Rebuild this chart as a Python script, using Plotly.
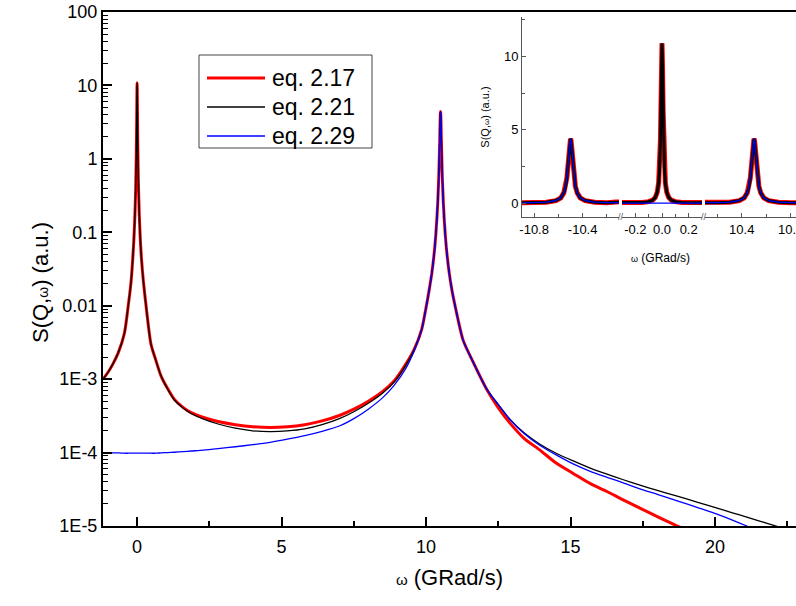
import plotly.graph_objects as go

# ---------------- data ----------------
omega = [
    -10.9, -10.8, -10.7, -10.62, -10.58, -10.555, -10.54, -10.53, -10.52, -10.515, -10.51, -10.505, -10.5,
    -10.495, -10.49, -10.485, -10.48, -10.47, -10.46, -10.445, -10.42, -10.38, -10.3, -10.2, -10.1,
    -1.18, -1.0, -0.84, -0.65, -0.44, -0.3, -0.21, -0.15, -0.1, -0.07, -0.05, -0.035, -0.025, -0.018,
    -0.012, -0.008, -0.004, 0.0,
    0.004, 0.008, 0.012, 0.018, 0.025, 0.035, 0.05, 0.07, 0.1, 0.15, 0.22, 0.3,
    0.48, 0.65, 0.83, 1.05, 1.29, 1.6, 1.87, 2.3, 2.8, 3.4, 4.0, 4.6, 5.2, 5.8, 6.4, 7.0, 7.5, 8.0,
    8.5, 8.9, 9.3, 9.6, 9.85, 10.0,
    10.1, 10.2, 10.3, 10.38, 10.42, 10.445, 10.46, 10.47, 10.48, 10.485, 10.49, 10.495, 10.5,
    10.505, 10.51, 10.515, 10.52, 10.53, 10.54, 10.555, 10.58, 10.62, 10.7, 10.8, 10.9,
    11.0, 11.28, 11.6, 12.11, 12.5, 12.91, 13.4, 13.94, 14.5, 15.09, 15.7, 16.26, 16.8, 17.4, 18.0,
    18.69, 19.4, 20.07, 20.6, 21.1, 21.6, 22.0, 22.5,
]

s_eq217 = [
    0.0158, 0.028, 0.0625, 0.169, 0.36, 0.70, 1.16, 1.72, 2.60, 3.16, 3.75, 4.22, 4.4,
    4.22, 3.75, 3.16, 2.60, 1.72, 1.16, 0.70, 0.36, 0.169, 0.0625, 0.028, 0.0158,
    1.0e-3, 1.25e-3, 1.6e-3, 2.3e-3, 4.2e-3, 0.0105, 0.021, 0.044, 0.099, 0.20, 0.39, 0.76, 1.40, 2.41,
    4.25, 6.43, 9.28, 10.9,
    9.28, 6.43, 4.25, 2.41, 1.40, 0.76, 0.39, 0.20, 0.099, 0.044, 0.021, 0.0108,
    3.0e-3, 1.8e-3, 1.1e-3, 7.5e-4, 5.3e-4, 4.1e-4, 3.5e-4, 3.0e-4, 2.65e-4, 2.4e-4, 2.25e-4, 2.2e-4,
    2.25e-4, 2.4e-4, 2.7e-4, 3.2e-4, 3.9e-4, 5.0e-4, 6.8e-4, 9.5e-4, 1.6e-3, 2.6e-3, 4.8e-3, 9.5e-3,
    0.0158, 0.028, 0.0625, 0.169, 0.36, 0.70, 1.16, 1.72, 2.60, 3.16, 3.75, 4.22, 4.4,
    4.22, 3.75, 3.16, 2.60, 1.72, 1.16, 0.70, 0.36, 0.169, 0.0625, 0.028, 0.0158,
    0.0101, 3.4e-3, 1.8e-3, 7.1e-4, 4.07e-4, 2.5e-4, 1.55e-4, 1.08e-4, 7.2e-5, 5.2e-5, 3.74e-5, 2.95e-5,
    2.29e-5, 1.75e-5, 1.34e-5, 1.0e-5, 7.6e-6, 5.9e-6, 4.9e-6, 4.1e-6, 3.5e-6, 3.1e-6, 2.7e-6,
]

s_eq221 = [
    0.0158, 0.028, 0.0625, 0.169, 0.36, 0.70, 1.16, 1.72, 2.60, 3.16, 3.75, 4.22, 4.4,
    4.22, 3.75, 3.16, 2.60, 1.72, 1.16, 0.70, 0.36, 0.169, 0.0625, 0.028, 0.0158,
    1.0e-3, 1.25e-3, 1.6e-3, 2.3e-3, 4.2e-3, 0.0105, 0.021, 0.044, 0.099, 0.20, 0.39, 0.76, 1.40, 2.41,
    4.25, 6.43, 9.28, 10.9,
    9.28, 6.43, 4.25, 2.41, 1.40, 0.76, 0.39, 0.20, 0.099, 0.044, 0.021, 0.0108,
    3.0e-3, 1.8e-3, 1.1e-3, 7.4e-4, 5.2e-4, 4.0e-4, 3.4e-4, 2.85e-4, 2.45e-4, 2.15e-4, 1.98e-4, 1.93e-4,
    1.97e-4, 2.1e-4, 2.4e-4, 2.9e-4, 3.6e-4, 4.7e-4, 6.5e-4, 9.2e-4, 1.55e-3, 2.6e-3, 4.8e-3, 9.5e-3,
    0.0158, 0.028, 0.0625, 0.169, 0.36, 0.70, 1.16, 1.72, 2.60, 3.16, 3.75, 4.22, 4.4,
    4.22, 3.75, 3.16, 2.60, 1.72, 1.16, 0.70, 0.36, 0.169, 0.0625, 0.028, 0.0158,
    0.0101, 3.4e-3, 1.8e-3, 7.2e-4, 4.5e-4, 2.8e-4, 1.85e-4, 1.3e-4, 9.8e-5, 7.7e-5, 6.1e-5, 5.1e-5,
    4.3e-5, 3.6e-5, 3.05e-5, 2.55e-5, 2.1e-5, 1.75e-5, 1.51e-5, 1.32e-5, 1.15e-5, 1.03e-5, 8.9e-6,
]

s_eq229 = [
    0.0158, 0.028, 0.0625, 0.169, 0.36, 0.70, 1.16, 1.72, 2.60, 3.16, 3.75, 4.22, 4.4,
    4.22, 3.75, 3.16, 2.60, 1.72, 1.16, 0.70, 0.36, 0.169, 0.0625, 0.028, 0.0158,
    1.0e-4, 1.0e-4, 0.99e-4, 0.99e-4, 0.98e-4, 0.98e-4, 0.98e-4, 0.98e-4, 0.98e-4, 0.98e-4, 0.98e-4,
    0.98e-4, 0.98e-4, 0.98e-4, 0.98e-4, 0.98e-4, 0.98e-4, 0.98e-4,
    0.98e-4, 0.98e-4, 0.98e-4, 0.98e-4, 0.98e-4, 0.98e-4, 0.98e-4, 0.98e-4, 0.98e-4, 0.98e-4, 0.98e-4, 0.98e-4,
    0.98e-4, 0.98e-4, 0.99e-4, 1.0e-4, 1.01e-4, 1.03e-4, 1.05e-4, 1.08e-4, 1.13e-4, 1.2e-4, 1.28e-4, 1.38e-4,
    1.52e-4, 1.7e-4, 1.95e-4, 2.3e-4, 2.9e-4, 3.9e-4, 5.6e-4, 8.3e-4, 1.4e-3, 2.5e-3, 4.7e-3, 9.4e-3,
    0.0158, 0.028, 0.0625, 0.169, 0.36, 0.70, 1.16, 1.72, 2.60, 3.16, 3.75, 4.22, 4.4,
    4.22, 3.75, 3.16, 2.60, 1.72, 1.16, 0.70, 0.36, 0.169, 0.0625, 0.028, 0.0158,
    0.0101, 3.4e-3, 1.8e-3, 7.2e-4, 4.5e-4, 2.8e-4, 1.8e-4, 1.25e-4, 9.3e-5, 7.0e-5, 5.5e-5, 4.6e-5,
    3.9e-5, 3.2e-5, 2.7e-5, 2.2e-5, 1.78e-5, 1.45e-5, 1.2e-5, 1.0e-5, 8.3e-6, 7.5e-6, 6.6e-6,
]

series_values = [s_eq217, s_eq221, s_eq229]
series_names = ["eq. 2.17", "eq. 2.21", "eq. 2.29"]
series_colors = ["#ff0000", "#000000", "#0000ff"]
main_widths = [3, 1.3, 1.3]
inset_widths = [5, 3, 1.2]

main_x_range = [-1.18, 22.8]
main_x_ticks = [0, 5, 10, 15, 20]
main_x_minor = [2.5, 7.5, 12.5, 17.5, 22.5]
main_y_ticks = [1e-5, 1e-4, 1e-3, 0.01, 0.1, 1, 10, 100]
main_y_text = ["1E-5", "1E-4", "1E-3", "0.01", "0.1", "1", "10", "100"]
main_y_minor = [m * 10.0 ** e for e in range(-5, 2) for m in range(2, 10)]

inset_y_ticks = [0, 5, 10]
inset_y_minor = [2.5, 7.5, 12.5]
seg_ranges = [[-10.9, -10.1], [-0.3, 0.3], [10.1, 10.843]]
seg_ticks = [[-10.8, -10.4], [-0.2, 0.0, 0.2], [10.4, 10.8]]
seg_text = [["-10.8", "-10.4"], ["-0.2", "0.0", "0.2"], ["10.4", "10.8"]]
seg_minor = [[-10.6, -10.2], [-0.1, 0.1], [10.2, 10.6]]

# ---------------- layout helpers ----------------
W, H = 796, 606
ML, MR, MT, MB = 103, 0, 12, 80
PW, PH = W - ML - MR, H - MT - MB


def px_x(p):
    return (p - ML) / PW


def px_y(p):
    return (H - MB - p) / PH


FONT = "Liberation Sans, Arial, sans-serif"
fig = go.Figure()

# main traces (only the part of the data inside the main x window)
main_idx = [i for i, w in enumerate(omega) if w >= main_x_range[0] - 0.01]
main_x = [omega[i] for i in main_idx]
for vals, name, col, lw in zip(series_values, series_names, series_colors, main_widths):
    fig.add_trace(go.Scatter(x=main_x, y=[vals[i] for i in main_idx], mode="lines", name=name,
                             line=dict(color=col, width=lw, shape="spline", smoothing=0.7),
                             xaxis="x", yaxis="y", showlegend=False, hoverinfo="skip"))

# inset traces (three broken segments)
for k in range(3):
    ax = str(k + 2)
    for vals, name, col, lw in zip(series_values, series_names, series_colors, inset_widths):
        fig.add_trace(go.Scatter(x=omega, y=vals, mode="lines", name=name,
                                 line=dict(color=col, width=lw), xaxis="x" + ax, yaxis="y" + ax,
                                 showlegend=False, hoverinfo="skip"))

seg_px = [(522, 619), (622, 702), (705, 796)]
inset_ydom = [px_y(217), px_y(17)]

layout = dict(
    width=W, height=H,
    margin=dict(l=ML, r=MR, t=MT, b=MB, autoexpand=False),
    paper_bgcolor="white", plot_bgcolor="white",
    showlegend=False,
    font=dict(family=FONT, color="black"),
    xaxis=dict(domain=[0, 1], range=main_x_range, anchor="y", automargin=False,
               tickvals=main_x_ticks, ticks="inside", ticklen=9, tickwidth=1.5, tickcolor="black",
               showline=True, linecolor="black", linewidth=2, mirror=True, ticklabelstandoff=3,
               showgrid=False, zeroline=False, tickfont=dict(size=18),
               minor=dict(tickvals=main_x_minor, ticks="inside", ticklen=5, tickwidth=1.5,
                          tickcolor="black", showgrid=False),
               title=dict(text="<span style='font-size:15px'>ω</span> (GRad/s)",
                          font=dict(size=22), standoff=14)),
    yaxis=dict(domain=[0, 1], type="log", range=[-5, 2], anchor="x", automargin=False,
               tickvals=main_y_ticks, ticktext=main_y_text,
               ticks="inside", ticklen=9, tickwidth=1.5, tickcolor="black",
               showline=True, linecolor="black", linewidth=2, mirror=False,
               showgrid=False, zeroline=False, tickfont=dict(size=18),
               minor=dict(tickvals=main_y_minor, ticks="inside", ticklen=5, tickwidth=1,
                          tickcolor="black", showgrid=False)),
)

for k in range(3):
    n = str(k + 2)
    x0, x1 = seg_px[k]
    layout["xaxis" + n] = dict(
        domain=[px_x(x0), px_x(x1)], range=seg_ranges[k], anchor="y" + n, automargin=False,
        tickvals=seg_ticks[k], ticktext=seg_text[k], ticks="inside", ticklen=4, tickwidth=1,
        tickcolor="#555", showline=True, linecolor="#555", linewidth=1,
        showgrid=False, zeroline=False, tickfont=dict(size=13), ticklabeloverflow="allow",
        minor=dict(tickvals=seg_minor[k], ticks="inside", ticklen=3, tickwidth=1,
                   tickcolor="#555", showgrid=False))
    ydict = dict(domain=inset_ydom, range=[-0.95, 12.7], anchor="x" + n, automargin=False,
                 showgrid=False, zeroline=False)
    if k == 0:
        ydict.update(tickvals=inset_y_ticks, ticks="inside", ticklen=4, tickwidth=1, tickcolor="#555",
                     showline=True, linecolor="#555", linewidth=1, tickfont=dict(size=13),
                     minor=dict(tickvals=inset_y_minor, ticks="inside", ticklen=3, tickwidth=1,
                                tickcolor="#555", showgrid=False),
                     title=dict(text="S(Q,<span style='font-size:8px'>ω</span>) (a.u.)",
                                font=dict(size=11), standoff=12))
    else:
        ydict.update(visible=False)
    layout["yaxis" + n] = ydict

fig.update_layout(**layout)

annotations = [
    dict(text="S(Q,<span style='font-size:14px'>ω</span>) (a.u.)", x=px_x(40), y=px_y(283),
         xref="paper", yref="paper", showarrow=False, textangle=-90,
         font=dict(size=22, family=FONT), xanchor="center", yanchor="middle"),
    dict(text="<span style='font-size:9px'>ω</span> (GRad/s)", x=px_x(660), y=px_y(258),
         xref="paper", yref="paper", showarrow=False, font=dict(size=12, family=FONT),
         xanchor="center", yanchor="middle"),
    dict(text="//", x=px_x(620.5), y=px_y(217), xref="paper", yref="paper", showarrow=False,
         font=dict(size=9, color="#555", family=FONT), xanchor="center", yanchor="middle"),
    dict(text="//", x=px_x(703.5), y=px_y(217), xref="paper", yref="paper", showarrow=False,
         font=dict(size=9, color="#555", family=FONT), xanchor="center", yanchor="middle"),
]

# custom legend box
shapes = [dict(type="rect", xref="paper", yref="paper", x0=px_x(199), x1=px_x(372),
               y0=px_y(148), y1=px_y(55), line=dict(color="#444", width=1), fillcolor="white",
               layer="above")]
leg_rows = [78, 107, 136]
for name, col, lw, yr in zip(series_names, series_colors, main_widths, leg_rows):
    shapes.append(dict(type="line", xref="paper", yref="paper", x0=px_x(207), x1=px_x(265),
                       y0=px_y(yr), y1=px_y(yr), line=dict(color=col, width=lw), layer="above"))
    annotations.append(dict(text=name, x=px_x(270), y=px_y(yr), xref="paper", yref="paper",
                            showarrow=False, font=dict(size=23, family=FONT),
                            xanchor="left", yanchor="middle"))

fig.update_layout(shapes=shapes, annotations=annotations)
fig.write_html("out.html")
